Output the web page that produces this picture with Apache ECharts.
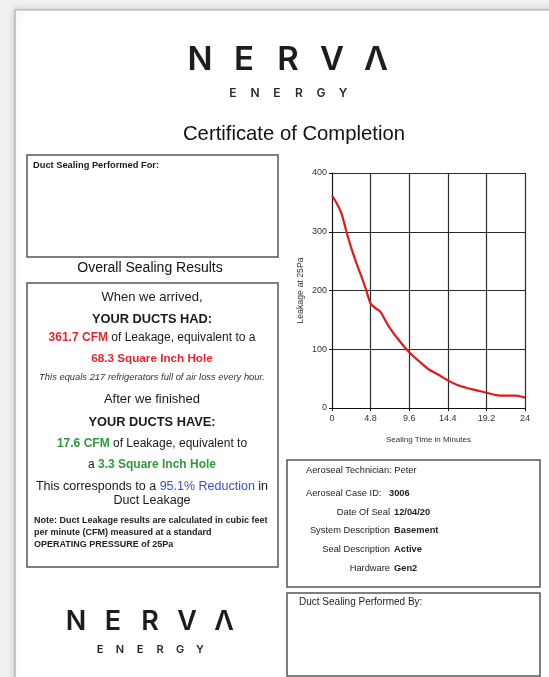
<!DOCTYPE html>
<html>
<head>
<meta charset="utf-8">
<style>
  html, body { margin: 0; padding: 0; background: #f1f1f1; }
  #main { width: 549px; height: 677px; }
</style>
<script src="https://cdn.jsdelivr.net/npm/echarts@6/dist/echarts.min.js"></script>
</head>
<body>
<div id="main"></div>
<script>
// sealing curve
var minutes = [0, 0.6, 1.2, 1.8, 2.4, 3.0, 3.6, 4.2, 4.8, 5.4, 6.0, 6.6, 7.2, 8.4, 9.6, 10.8, 12.0, 13.2, 14.4, 15.6, 16.8, 18.0, 19.2, 20.4, 21.6, 22.8, 23.4, 24];
var leakage = [361.7, 348, 330, 300, 272, 248, 226, 203, 178, 170, 164, 150, 136, 114, 95, 80, 66, 57, 47, 39, 34, 30, 26, 22, 21, 21, 20, 17.6];
var xTicks = [0, 4.8, 9.6, 14.4, 19.2, 24];
var yTicks = [0, 100, 200, 300, 400];

var infoLabels = ['Date Of Seal', 'System Description', 'Seal Description', 'Hardware'];
var infoValues = ['12/04/20', 'Basement', 'Active', 'Gen2'];

var FONT = '"Liberation Sans", Arial, sans-serif';
var LOGO = 'Inter, "Noto Sans", sans-serif';
var RED = '#e8242c', GREEN = '#2f9a3e', BLUE = '#3d4fc0';

var chart = echarts.init(document.getElementById('main'));

function txt(x, y, s, size, opts) {
  opts = opts || {};
  return {
    type: 'text', x: x, y: y, silent: true, z: 5,
    style: {
      text: s, fontSize: size, fontFamily: opts.family || FONT,
      fontWeight: opts.weight || 'normal', fontStyle: opts.style || 'normal',
      fill: opts.color || '#1a1a1a', align: opts.align || 'left', verticalAlign: 'middle',
      rich: opts.rich
    }
  };
}

function box(x, y, w, h, stroke, lw, fill) {
  return {
    type: 'rect', z: 1, silent: true,
    shape: { x: x, y: y, width: w, height: h },
    style: { fill: fill || '#fff', stroke: stroke || '#555', lineWidth: lw || 1.5 }
  };
}

function logo(cx, y, letterGap, size, subGap, subSize, subY) {
  var out = [];
  var big = ['N', 'E', 'R', 'V', 'Λ'];
  var small = 'ENERGY'.split('');
  big.forEach(function (c, i) {
    out.push(txt(cx + (i - 2) * letterGap, y, c, size, { family: LOGO, weight: 600, align: 'center', color: '#1d1d1f' }));
  });
  small.forEach(function (c, i) {
    out.push(txt(cx + (i - 2.5) * subGap, subY, c, subSize, { family: LOGO, weight: 600, align: 'center', color: '#2a2a2a' }));
  });
  return out;
}

var g = [];
// paper
g.push({
  type: 'rect', z: 0, silent: true,
  shape: { x: 15, y: 10, width: 560, height: 700 },
  style: { fill: '#fff', stroke: '#a9a9a9', lineWidth: 1.2, shadowBlur: 8, shadowColor: 'rgba(0,0,0,0.18)' }
});
g = g.concat(logo(288, 60, 44, 33, 22, 12, 93));
g.push(txt(294, 134, 'Certificate of Completion', 20.3, { align: 'center', color: '#111' }));

// customer box
g.push(box(27, 155, 251, 102));
g.push(txt(33, 165, 'Duct Sealing Performed For:', 9.3, { weight: 'bold' }));
g.push(txt(150, 268, 'Overall Sealing Results', 14, { align: 'center', color: '#111' }));

// results box
g.push(box(27, 283, 251, 284));
var cx = 152;
var RS = 12;
g.push(txt(cx, 297, 'When we arrived,', 13, { align: 'center' }));
g.push(txt(cx, 319, 'YOUR DUCTS HAD:', 12.8, { align: 'center', weight: 'bold' }));
g.push(txt(cx, 338, '{r|361.7 CFM} of Leakage, equivalent to a', RS, { align: 'center', rich: { r: { fill: RED, fontSize: RS, fontFamily: FONT, fontWeight: 'bold' } } }));
g.push(txt(cx, 359, '68.3 Square Inch Hole', 11.7, { align: 'center', color: RED, weight: 'bold' }));
g.push(txt(cx, 377, 'This equals 217 refrigerators full of air loss every hour.', 9.4, { align: 'center', style: 'italic', color: '#333' }));
g.push(txt(cx, 399, 'After we finished', 13, { align: 'center' }));
g.push(txt(cx, 422, 'YOUR DUCTS HAVE:', 12.8, { align: 'center', weight: 'bold' }));
g.push(txt(cx, 444, '{g|17.6 CFM} of Leakage, equivalent to', RS, { align: 'center', rich: { g: { fill: GREEN, fontSize: RS, fontFamily: FONT, fontWeight: 'bold' } } }));
g.push(txt(cx, 465, 'a {g|3.3 Square Inch Hole}', RS, { align: 'center', rich: { g: { fill: GREEN, fontSize: RS, fontFamily: FONT, fontWeight: 'bold' } } }));
g.push(txt(cx, 487, 'This corresponds to a {b|95.1% Reduction} in', 12.5, { align: 'center', rich: { b: { fill: BLUE, fontSize: 12.5, fontFamily: FONT } } }));
g.push(txt(cx, 501, 'Duct Leakage', 12.5, { align: 'center' }));
g.push(txt(34, 521, 'Note: Duct Leakage results are calculated in cubic feet', 9, { weight: 'bold', color: '#222' }));
g.push(txt(34, 533, 'per minute (CFM) measured at a standard', 9, { weight: 'bold', color: '#222' }));
g.push(txt(34, 545, 'OPERATING PRESSURE of 25Pa', 9, { weight: 'bold', color: '#222' }));

// chart frame
g.push({
  type: 'rect', z: -1, silent: true,
  shape: { x: 287, y: 155, width: 253, height: 296 },
  style: { fill: '#fbfaf2', stroke: '#3548b3', lineWidth: 2 }
});
g.push({
  type: 'rect', z: -1, silent: true,
  shape: { x: 290, y: 158, width: 247, height: 290 },
  style: { fill: 'none', stroke: '#c9cbe0', lineWidth: 1 }
});

// info box
var IS = 9.3;
g.push(box(287, 460, 253, 127));
g.push(txt(306, 470, 'Aeroseal Technician: Peter', IS, { color: '#222' }));
g.push(txt(306, 493, 'Aeroseal Case ID:', IS, { color: '#222' }));
g.push(txt(389, 493, '3006', IS, { weight: 'bold', color: '#222' }));
infoLabels.forEach(function (l, i) {
  g.push(txt(390, 512 + i * 18.7, l, IS, { align: 'right', color: '#222' }));
  g.push(txt(394, 512 + i * 18.7, infoValues[i], IS, { weight: 'bold', color: '#222' }));
});

// performed by box
g.push(box(287, 593, 253, 83));
g.push(txt(299, 602, 'Duct Sealing Performed By:', 10, { color: '#222' }));

g = g.concat(logo(150, 622, 37, 27, 20, 11, 650));

var axisLabel = { fontSize: 9, color: '#333', fontFamily: FONT };
var option = {
  backgroundColor: '#f1f1f1',
  animation: false,
  graphic: { elements: g },
  grid: { left: 332, top: 173, width: 193, height: 235, show: true, backgroundColor: '#fff', borderColor: '#111', borderWidth: 1 },
  xAxis: {
    type: 'value', min: 0, max: 24, interval: 4.8,
    name: 'Sealing Time in Minutes', nameLocation: 'middle', nameGap: 28,
    nameTextStyle: { fontSize: 8, color: '#333', fontFamily: FONT },
    axisLine: { lineStyle: { color: '#111' } },
    axisTick: { show: true, length: 3, lineStyle: { color: '#111' } },
    axisLabel: Object.assign({ margin: 6, formatter: function (v) { return String(+v.toFixed(1)); } }, axisLabel),
    splitLine: { lineStyle: { color: '#2a2a2a', width: 1.2 } }
  },
  yAxis: {
    type: 'value', min: 0, max: 400, interval: 100,
    name: 'Leakage at 25Pa', nameLocation: 'middle', nameGap: 27,
    nameTextStyle: { fontSize: 8.8, color: '#333', fontFamily: FONT },
    axisLine: { show: true, lineStyle: { color: '#111' } },
    axisTick: { show: true, length: 3, lineStyle: { color: '#111' } },
    axisLabel: Object.assign({ margin: 5 }, axisLabel),
    splitLine: { lineStyle: { color: '#2a2a2a', width: 1.2 } }
  },
  series: [{
    type: 'line',
    data: minutes.map(function (m, i) { return [m, leakage[i]]; }),
    smooth: 0.3,
    showSymbol: false,
    lineStyle: { color: '#dd1a1f', width: 2.2 }
  }]
};
chart.setOption(option);
</script>
</body>
</html>
